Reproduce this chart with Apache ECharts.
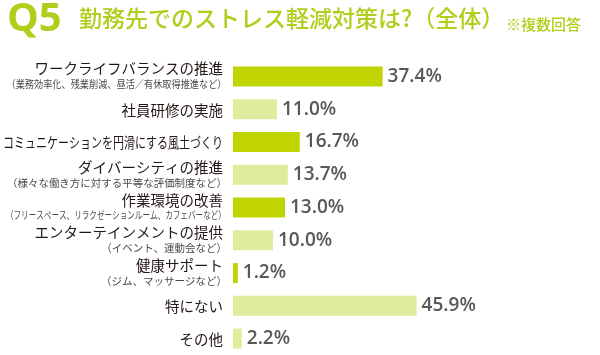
<!DOCTYPE html>
<html>
<head>
<meta charset="utf-8">
<script src="https://cdn.jsdelivr.net/npm/echarts@6/dist/echarts.min.js"></script>
<style>
html,body{margin:0;padding:0;background:#fff;}
#chart{width:600px;height:355px;}
</style>
</head>
<body>
<div id="chart"></div>
<script>
// ---- data ----
const categories = [
  'ワークライフバランスの推進',
  '社員研修の実施',
  'コミュニケーションを円滑にする風土づくり',
  'ダイバーシティの推進',
  '作業環境の改善',
  'エンターテインメントの提供',
  '健康サポート',
  '特にない',
  'その他'
];
const subLabels = [
  '（業務効率化、残業削減、昼活／有休取得推進など）',
  '',
  '',
  '（様々な働き方に対する平等な評価制度など）',
  '（フリースペース、リラクゼーションルーム、カフェバーなど）',
  '（イベント、運動会など）',
  '（ジム、マッサージなど）',
  '',
  ''
];
const values = [37.4, 11.0, 16.7, 13.7, 13.0, 10.0, 1.2, 45.9, 2.2];
const barShades = ['dark','light','dark','light','dark','light','dark','light','light'];

// ---- styles ----
const DARK = '#bfd400';
const LIGHT = '#e1eb9d';
const TITLE = '#b2cd1c';
const JP = '"Noto Sans CJK JP", "Noto Sans", sans-serif';
const MAIN_FONT = '14.5px ' + JP;
const SUB_FONT = '10.5px ' + JP;
const LABEL_RIGHT = 223;
const LABEL_MAXW = 220;

const chart = echarts.init(document.getElementById('chart'), null, {renderer: 'canvas'});

const titleGraphics = [
  { type: 'text', left: 7, top: 0,
    style: { text: 'Q5', font: 'bold 40px "Open Sans", sans-serif', fill: TITLE } },
  { type: 'text', left: 79, top: 7,
    style: { text: '勤務先でのストレス軽減対策は?（全体）', font: '500 23px ' + JP, fill: TITLE } },
  { type: 'text', left: 506, top: 17,
    style: { text: '※複数回答', font: '500 15px ' + JP, fill: TITLE } }
];

const option = {
  animation: false,
  backgroundColor: '#ffffff',
  graphic: titleGraphics,
  grid: { left: 233, right: 7, top: 60, bottom: 0, containLabel: false, outerBoundsMode: 'none' },
  xAxis: { type: 'value', min: 0, max: 90, show: false },
  yAxis: {
    type: 'category',
    inverse: true,
    data: categories,
    axisLine: { show: false },
    axisTick: { show: false },
    axisLabel: { show: false }
  },
  series: [{
    type: 'bar',
    data: values,
    barWidth: 20,
    itemStyle: {
      color: function (p) { return barShades[p.dataIndex] === 'dark' ? DARK : LIGHT; }
    },
    label: {
      show: true,
      position: 'right',
      distance: 5,
      formatter: function (p) { return p.value.toFixed(1) + '%'; },
      fontFamily: '"Open Sans", "Noto Sans", sans-serif',
      fontWeight: 600,
      fontSize: 19,
      color: '#595757'
    }
  }]
};
chart.setOption(option);

// category labels, placed with the category axis scale, condensed when too wide
const ctx = document.createElement('canvas').getContext('2d');
function fitScale(text, font) {
  ctx.font = font;
  const w = ctx.measureText(text).width;
  return w > LABEL_MAXW ? LABEL_MAXW / w : 1;
}
const labelGraphics = [];
categories.forEach(function (name, i) {
  const cy = chart.convertToPixel({ yAxisIndex: 0 }, i);
  const sub = subLabels[i];
  const mainY = sub ? cy - 7.5 : cy + 1;
  labelGraphics.push({
    type: 'text', x: LABEL_RIGHT, y: mainY, scaleX: fitScale(name, MAIN_FONT),
    style: { text: name, font: MAIN_FONT, fill: '#231815', textAlign: 'right', textVerticalAlign: 'middle' }
  });
  if (sub) {
    const s = fitScale(sub, SUB_FONT);
    labelGraphics.push({
      type: 'text', x: LABEL_RIGHT + 4 * s, y: cy + 8, scaleX: s,
      style: { text: sub, font: SUB_FONT, fill: '#4a4a4a', textAlign: 'right', textVerticalAlign: 'middle' }
    });
  }
});
chart.setOption({ graphic: titleGraphics.concat(labelGraphics) });
</script>
</body>
</html>
